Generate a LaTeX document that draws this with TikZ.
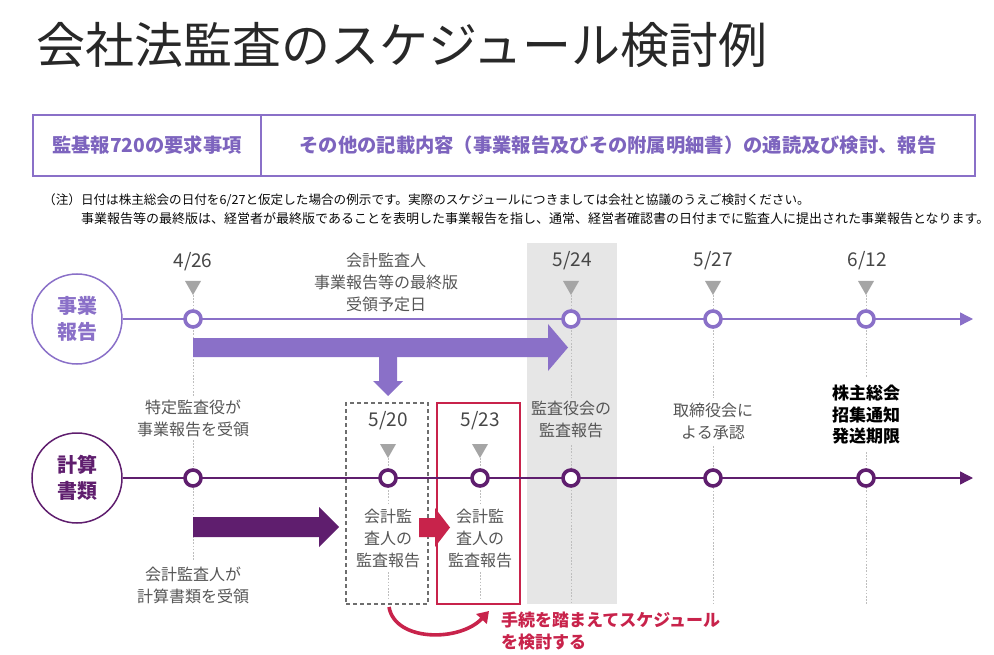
\documentclass[tikz,border=0pt]{standalone}
\usepackage{fontspec}
\setmainfont{Noto Sans CJK JP}
\usetikzlibrary{arrows.meta}
\definecolor{lpur}{RGB}{138,112,200}
\definecolor{hpur}{RGB}{125,100,190}
\definecolor{dpur}{RGB}{95,30,110}
\definecolor{rred}{RGB}{200,35,75}
\definecolor{trig}{RGB}{165,165,165}
\definecolor{bandg}{RGB}{230,230,230}
\definecolor{dotg}{RGB}{190,190,190}
\definecolor{txtg}{RGB}{85,85,85}
\definecolor{datec}{RGB}{70,70,70}
\definecolor{boxg}{RGB}{110,110,110}
\definecolor{titlec}{RGB}{40,40,40}
\definecolor{notec}{RGB}{10,10,10}
\tikzset{
  datelbl/.style={inner sep=0, text=datec, font=\fontsize{19}{19}\selectfont},
  lbl/.style={inner sep=0, text=txtg, align=center, font=\fontsize{16}{22}\selectfont},
  mku/.style={circle, draw=lpur, fill=white, line width=3.6, minimum size=16, inner sep=0},
  mkl/.style={circle, draw=dpur, fill=white, line width=3.6, minimum size=16, inner sep=0},
  dotl/.style={draw=dotg, line width=1, dash pattern=on 1.6 off 1.6},
  hdrbox/.style={draw=lpur, line width=1.5, minimum height=61, inner sep=0, text=hpur, font=\fontsize{19.3}{19.3}\selectfont\bfseries},
  notetxt/.style={anchor=west, inner sep=0, text=notec},
  catcirc/.style={circle, line width=1.5, minimum size=90, inner sep=0, align=center, font=\fontsize{20}{26}\selectfont\bfseries},
}
\newcommand\dtri[2]{\fill[trig] ({#1-8},#2) -- ({#1+8},#2) -- (#1,{#2+14}) -- cycle;}
\begin{document}
\begin{tikzpicture}[x=1pt,y=-1pt]
\useasboundingbox (0,0) rectangle (994,655);
% title
\node[anchor=west, inner sep=0, text=titlec, font=\fontsize{49}{49}\selectfont] (title) at (36,45) {会社法監査のスケジュール検討例};
% header
\node[hdrbox, minimum width=228] (hl) at (147,145.5) {監基報720の要求事項};
\node[hdrbox, minimum width=714] (hr) at (618,145.5) {その他の記載内容（事業報告及びその附属明細書）の通読及び検討、報告};
% notes
\node[notetxt, font=\fontsize{12.6}{12.6}\selectfont] (n1) at (43,200) {（注）日付は株主総会の日付を6/27と仮定した場合の例示です。実際のスケジュールにつきましては会社と協議のうえご検討ください。};
\node[notetxt, font=\fontsize{13}{13}\selectfont] (n2) at (81,219) {事業報告等の最終版は、経営者が最終版であることを表明した事業報告を指し、通常、経営者確認書の日付までに監査人に提出された事業報告となります。};
% grey band
\fill[bandg] (527,243) rectangle (617,604);
% dotted guide lines
\draw[dotl] (193,295) -- (193,397);
\draw[dotl] (193,440) -- (193,560);
\draw[dotl] (388,458) -- (388,503);
\draw[dotl] (388,572) -- (388,600);
\draw[dotl] (480,458) -- (480,503);
\draw[dotl] (480,572) -- (480,600);
\draw[dotl] (571,295) -- (571,398);
\draw[dotl] (571,445) -- (571,604);
\draw[dotl] (713,295) -- (713,398);
\draw[dotl] (713,446) -- (713,604);
\draw[dotl] (866,295) -- (866,377);
\draw[dotl] (866,452) -- (866,604);
% boxes
\node[draw=boxg, dashed, dash pattern=on 4 off 3, line width=1.6, minimum width=82, minimum height=201, inner sep=0] (b520) at (387,503.5) {};
\node[draw=rred, line width=2.8, minimum width=83, minimum height=201, inner sep=0] (b523) at (478.5,503.5) {};
% category circles
\node[catcirc, draw=lpur, text=lpur] (jb) at (77,319) {事業\\報告};
\node[catcirc, draw=dpur, text=dpur] (ks) at (77,478) {計算\\書類};
% timelines
\coordinate (ue) at (973,319);
\coordinate (le) at (973,478);
\draw[lpur, line width=1.4, -{Triangle[length=13,width=13]}] (jb) -- (ue);
\draw[dpur, line width=1.4, -{Triangle[length=13,width=13]}] (ks) -- (le);
% big arrows
\fill[lpur] (193,338) -- (548,338) -- (548,324) -- (568,347.5) -- (548,371) -- (548,357) -- (193,357) -- cycle;
\fill[lpur] (379,357) -- (397,357) -- (397,381) -- (403,381) -- (388,396) -- (373,381) -- (379,381) -- cycle;
\fill[dpur] (193,517) -- (319,517) -- (319,507) -- (339,527) -- (319,547) -- (319,537) -- (193,537) -- cycle;
\fill[rred] (419,518) -- (435,518) -- (435,508) -- (450,527.5) -- (435,547) -- (435,537) -- (419,537) -- cycle;
% markers upper
\node[mku] (u1) at (193,319) {};
\node[mku] (u2) at (571,319) {};
\node[mku] (u3) at (713,319) {};
\node[mku] (u4) at (866,319) {};
% markers lower
\node[mkl] (l1) at (193,478) {};
\node[mkl] (l2) at (388,478) {};
\node[mkl] (l3) at (480,478) {};
\node[mkl] (l4) at (571,478) {};
\node[mkl] (l5) at (713,478) {};
\node[mkl] (l6) at (866,478) {};
% triangles
\dtri{193}{281}
\dtri{571}{281}
\dtri{713}{281}
\dtri{866}{281}
\dtri{388}{444}
\dtri{480}{444}
% dates
\node[datelbl] (d1) at (193,262) {4/26};
\node[datelbl] (d2) at (572,261) {5/24};
\node[datelbl] (d3) at (713,261) {5/27};
\node[datelbl] (d4) at (867,261) {6/12};
\node[datelbl] (d5) at (388,421) {5/20};
\node[datelbl] (d6) at (480,421) {5/23};
% labels
\node[lbl] (t0) at (386,282) {会計監査人\\事業報告等の最終版\\受領予定日};
\node[lbl] (t1) at (193,418) {特定監査役が\\事業報告を受領};
\node[lbl] (t2) at (571,419) {監査役会の\\監査報告};
\node[lbl] (t3) at (713,421) {取締役会に\\よる承認};
\node[inner sep=0, align=center, text=black, font=\fontsize{17}{21.5}\selectfont\bfseries] (t4) at (866,415) {株主総会\\招集通知\\発送期限};
\node[lbl] (t5) at (388,538) {会計監\\査人の\\監査報告};
\node[lbl] (t6) at (480,538) {会計監\\査人の\\監査報告};
\node[lbl] (t7) at (193,585) {会計監査人が\\計算書類を受領};
% curved red arrow
\coordinate (cs) at (389,607);
\coordinate (ce) at (489,611);
\draw[rred, line width=3.6, -{Triangle[length=11,width=14]}] (cs) .. controls (395,642) and (460,642) .. (ce);
\node[anchor=west, inner sep=0, align=left, text=rred, font=\fontsize{17}{22}\selectfont\bfseries] (rt) at (501,631) {手続を踏まえてスケジュール\\を検討する};
\end{tikzpicture}
\end{document}
